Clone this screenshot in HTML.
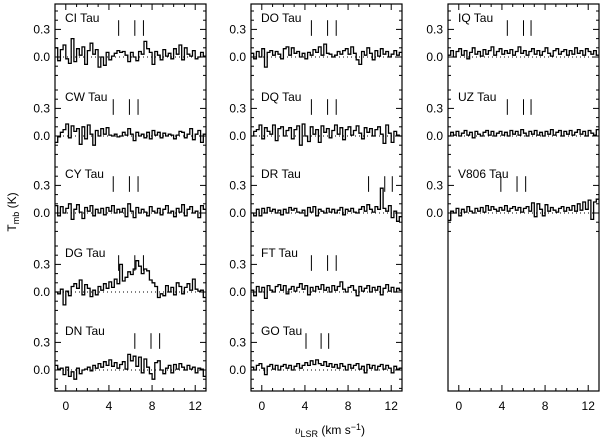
<!DOCTYPE html>
<html><head><meta charset="utf-8"><style>
body{margin:0;background:#fff}
svg{display:block;font-family:"Liberation Sans",sans-serif}
</style></head><body>
<svg id="c" width="600" height="441" viewBox="0 0 600 441"></svg>
<script>
const sources=["CI Tau","CW Tau","CY Tau","DG Tau","DN Tau","DO Tau","DQ Tau","DR Tau","FT Tau","GO Tau","IQ Tau","UZ Tau","V806 Tau"];
const panelCol=[0,0,0,0,0,1,1,1,1,1,2,2,2];
const panelRow=[0,1,2,3,4,0,1,2,3,4,0,1,2];
const vStart=-1, vStep=0.25;
const markers=[[4.9,6.4,7.2],[4.4,5.9,6.7],[4.4,5.9,6.7],[4.9,6.4,7.2],[6.4,7.9,8.7],[4.6,6.1,6.9],[4.6,6.1,6.9],[9.9,11.4,12.1],[4.6,6.1,6.9],[4.1,5.5,6.2],[4.5,6.0,6.7],[4.5,6.0,6.7],[3.9,5.4,6.2]];
const spectra=[
[0.1,-0.04,0.08,0.13,-0.02,-0.07,0.2,-0.05,0.09,0.02,0.11,-0.08,0.07,0.15,0.03,0.08,-0.11,0.0,-0.09,0.05,-0.03,0.01,0.04,0.07,0.05,0.06,0.02,-0.05,0.05,0.0,-0.04,0.06,0.03,0.17,0.09,0.05,-0.08,0.06,0.02,-0.03,0.08,0.01,0.04,-0.02,0.09,0.03,0.13,-0.03,0.1,0.03,0.01,0.07,-0.02,0.0,0.05,0.01],
[-0.07,-0.01,0.04,0.07,0.13,-0.02,0.11,0.05,0.08,-0.09,0.1,-0.03,0.12,0.02,-0.1,0.06,0.0,0.08,0.02,0.09,0.01,0.0,0.02,-0.01,0.0,0.04,0.01,0.08,0.02,-0.05,0.04,0.0,0.02,-0.02,0.04,-0.03,0.06,0.01,0.04,-0.02,0.03,0.0,0.02,0.01,-0.03,0.01,0.05,0.04,-0.02,0.02,0.08,-0.04,0.02,0.06,-0.07,0.02],
[0.08,-0.03,0.07,0.0,0.05,0.1,-0.07,0.04,0.09,0.01,-0.06,0.06,0.02,0.08,-0.03,0.04,0.0,0.05,-0.02,0.06,0.02,0.08,0.0,0.04,0.01,0.05,-0.04,0.1,0.02,-0.05,0.06,0.0,0.04,0.01,-0.03,0.07,0.02,0.0,0.05,-0.02,0.04,0.08,0.0,0.02,-0.04,0.05,0.01,0.09,-0.03,0.04,0.07,0.0,0.02,-0.05,0.08,0.04],
[0.0,-0.02,0.03,-0.14,0.01,-0.04,0.06,0.09,0.04,0.13,-0.03,0.08,0.04,-0.05,0.02,-0.03,0.06,0.02,0.09,0.04,0.11,0.05,0.14,0.09,0.3,0.12,0.16,0.22,0.19,0.25,0.34,0.28,0.2,0.25,0.23,0.13,0.1,0.06,-0.06,-0.02,-0.04,0.07,0.0,0.05,-0.03,0.1,0.06,-0.02,0.05,0.09,0.02,0.14,0.03,0.01,0.02,-0.06],
[0.05,0.01,0.02,-0.05,0.03,-0.07,-0.02,-0.1,0.02,-0.04,0.0,0.01,0.03,-0.01,0.05,0.02,0.07,0.03,0.09,0.05,0.11,0.04,0.08,0.02,0.06,0.09,0.01,0.17,0.1,0.15,0.04,0.14,-0.03,0.12,0.03,-0.04,-0.1,0.08,0.1,0.0,-0.04,0.02,0.05,-0.03,0.06,0.01,0.07,0.03,0.0,0.05,0.01,0.03,-0.03,0.02,0.01,-0.07],
[0.04,-0.02,0.06,0.0,0.09,-0.11,0.05,0.07,0.02,0.06,0.03,-0.02,0.09,0.11,0.02,0.1,0.04,0.06,0.0,0.04,-0.02,0.05,0.02,0.08,0.05,0.11,0.02,0.14,0.04,0.03,0.0,0.02,0.06,0.03,0.07,0.09,0.03,0.11,0.04,-0.03,-0.08,0.06,0.02,0.1,0.04,-0.03,0.07,0.01,0.09,0.03,0.06,0.0,0.03,0.07,0.02,0.05],
[0.0,0.05,0.07,0.12,-0.03,0.09,0.05,0.02,0.12,-0.05,0.08,0.1,0.0,0.06,0.09,-0.03,0.07,0.11,-0.1,0.13,0.0,-0.06,0.1,0.02,0.07,-0.07,0.11,0.04,0.08,-0.02,0.06,0.12,0.02,0.09,-0.04,0.07,0.1,0.01,0.06,0.11,0.03,-0.03,0.09,0.04,0.08,0.0,0.07,0.1,0.02,-0.08,0.12,0.03,-0.07,0.05,0.01,0.0],
[0.0,-0.03,0.04,-0.03,0.05,0.0,0.06,0.02,0.04,0.0,0.03,-0.02,0.04,0.0,0.06,0.03,0.05,0.01,0.0,0.03,-0.03,0.06,0.01,0.07,-0.03,0.04,0.02,0.0,0.05,0.01,0.04,0.0,0.03,0.06,-0.02,0.04,0.02,0.05,0.01,0.0,0.04,0.07,0.02,0.09,0.04,0.01,0.07,0.04,0.27,0.05,0.02,0.08,-0.05,0.02,-0.09,-0.04],
[0.02,-0.04,0.06,0.0,0.05,-0.07,0.07,0.02,0.0,0.06,0.08,0.02,0.07,-0.02,0.03,0.06,0.01,0.05,0.09,0.03,0.07,-0.03,0.05,0.01,0.06,0.03,0.08,0.02,0.05,0.0,0.07,0.02,0.06,0.11,0.03,0.0,0.05,0.07,0.02,-0.04,0.06,0.01,0.04,0.07,0.0,0.05,0.02,0.06,-0.03,0.04,0.08,0.01,0.05,0.0,0.04,0.02],
[0.03,0.0,0.05,0.07,0.02,-0.05,0.04,0.06,0.01,0.05,0.0,0.04,0.06,0.02,0.05,0.0,0.04,0.07,0.02,0.05,0.08,0.05,0.1,0.06,0.11,0.07,0.05,0.09,0.04,0.07,0.03,0.06,0.02,0.07,0.04,0.0,0.06,0.02,0.05,0.07,0.01,0.04,-0.03,0.06,0.02,0.05,0.0,0.04,0.06,0.01,0.05,0.02,-0.03,0.04,0.01,0.02],
[0.02,0.07,0.0,0.06,0.09,0.02,0.07,-0.02,0.05,0.1,0.03,0.06,0.01,0.08,0.03,0.07,0.11,0.02,0.06,0.09,0.03,0.07,0.04,0.08,0.02,0.06,0.11,0.04,0.07,0.02,0.06,0.09,0.03,0.07,0.02,0.06,0.1,0.04,0.01,0.07,0.09,0.03,0.06,0.08,0.02,0.07,0.03,0.1,0.04,0.07,0.02,0.09,0.06,0.03,0.07,0.02],
[0.0,0.04,0.01,0.05,0.0,0.03,0.06,0.01,0.04,-0.02,0.05,0.02,0.0,0.04,0.06,0.01,0.05,0.0,0.03,0.05,0.01,0.04,0.0,0.06,0.02,0.05,0.01,0.07,0.03,0.0,0.05,0.02,0.06,0.01,0.04,0.0,0.05,0.02,0.07,0.01,0.04,0.06,0.0,0.05,0.02,0.06,0.01,0.04,0.07,0.02,0.05,0.0,0.06,0.03,0.01,0.07],
[-0.08,0.02,0.0,0.05,-0.03,0.04,0.01,0.07,0.02,0.0,0.05,0.02,0.06,0.01,0.08,0.03,0.07,0.04,0.02,0.06,0.03,0.08,0.02,0.05,0.07,0.03,0.06,0.01,0.05,0.07,0.02,0.11,-0.04,0.1,0.04,-0.03,0.09,0.02,0.06,0.03,0.01,0.05,0.07,0.02,0.06,0.03,0.08,0.02,0.1,0.03,0.12,0.04,0.14,-0.07,0.12,0.15]
];
const xTicks=[0,4,8,12];
const yTicks=[0.0,0.3];

const svg=document.getElementById('c');
const NS='http://www.w3.org/2000/svg';
function mk(t,a,p){const e=document.createElementNS(NS,t);for(const k in a)e.setAttribute(k,a[k]);(p||svg).appendChild(e);return e;}
const colL=[55,251,448], PW=151, TOP=4, BOT=391;
const rowZero=[57,136,213,292,370];
const ky=92;
function xs(c,v){return colL[c]+(v-(-1))*PW/14;}
function ys(r,t){return rowZero[r]-t*ky;}

for(let c=0;c<3;c++){
  const f=mk('rect',{x:colL[c],y:TOP,width:PW,height:BOT-TOP,fill:'none',stroke:'#000','stroke-width':1.2});
  
  
  for(let v=-1;v<=13;v++){
    const x=xs(c,v), L=(v%4===0)?6:3;
    mk('line',{x1:x,x2:x,y1:TOP,y2:TOP+L,stroke:'#000'});
    mk('line',{x1:x,x2:x,y1:BOT,y2:BOT-L,stroke:'#000'});
  }
  xTicks.forEach(v=>{
    const t=mk('text',{x:xs(c,v),y:410,'text-anchor':'middle','font-size':12});
    t.textContent=v;
    
    
  });
}
sources.forEach((name,i)=>{
  const c=panelCol[i], r=panelRow[i];
  const g=mk('g',{});
  
  
  for(let k=-2;k<=5;k++){
    const y=ys(r,k/10), L=(k%3===0)?6:3;
    mk('line',{x1:colL[c],x2:colL[c]+L,y1:y,y2:y,stroke:'#000'},g);
    mk('line',{x1:colL[c]+PW,x2:colL[c]+PW-L,y1:y,y2:y,stroke:'#000'},g);
  }
  yTicks.forEach(t=>{
    const e=mk('text',{x:colL[c]-5,y:ys(r,t)+4,'text-anchor':'end','font-size':12},g);
    e.textContent=t.toFixed(1);
  });
  mk('line',{x1:colL[c],x2:colL[c]+PW,y1:ys(r,0),y2:ys(r,0),stroke:'#000','stroke-dasharray':'1,3'},g);
  const lab=mk('text',{x:colL[c]+10,y:ys(r,0.38),'font-size':12},g);
  lab.textContent=name;
  
  
  markers[i].forEach(v=>{
    const m=mk('line',{x1:xs(c,v),x2:xs(c,v),y1:ys(r,0.4),y2:ys(r,0.23),stroke:'#000'},g);
    
    
  });
  const d=spectra[i];
  let p='';
  d.forEach((t,j)=>{
    const x0=xs(c,vStart+j*vStep), x1=xs(c,vStart+(j+1)*vStep), y=ys(r,t);
    p+=(j===0?'M':'L')+x0.toFixed(1)+','+y.toFixed(1)+'L'+x1.toFixed(1)+','+y.toFixed(1);
  });
  const h=mk('path',{d:p,fill:'none',stroke:'#000','stroke-width':1.3},g);
  
  
});
const yl=mk('text',{x:0,y:0,'font-size':12,transform:'translate(16,212) rotate(-90)','text-anchor':'middle'});
yl.innerHTML='T<tspan font-size="9" dy="3">mb</tspan><tspan dy="-3"> (K)</tspan>';


const xl=mk('text',{x:330,y:434,'font-size':12,'text-anchor':'middle'});
xl.innerHTML='<tspan font-style="italic" font-family="Liberation Serif">υ</tspan><tspan font-size="9" dy="3">LSR</tspan><tspan dy="-3"> (km s</tspan><tspan font-size="9" dy="-4">−1</tspan><tspan dy="4">)</tspan>';


</script>
</body></html>
